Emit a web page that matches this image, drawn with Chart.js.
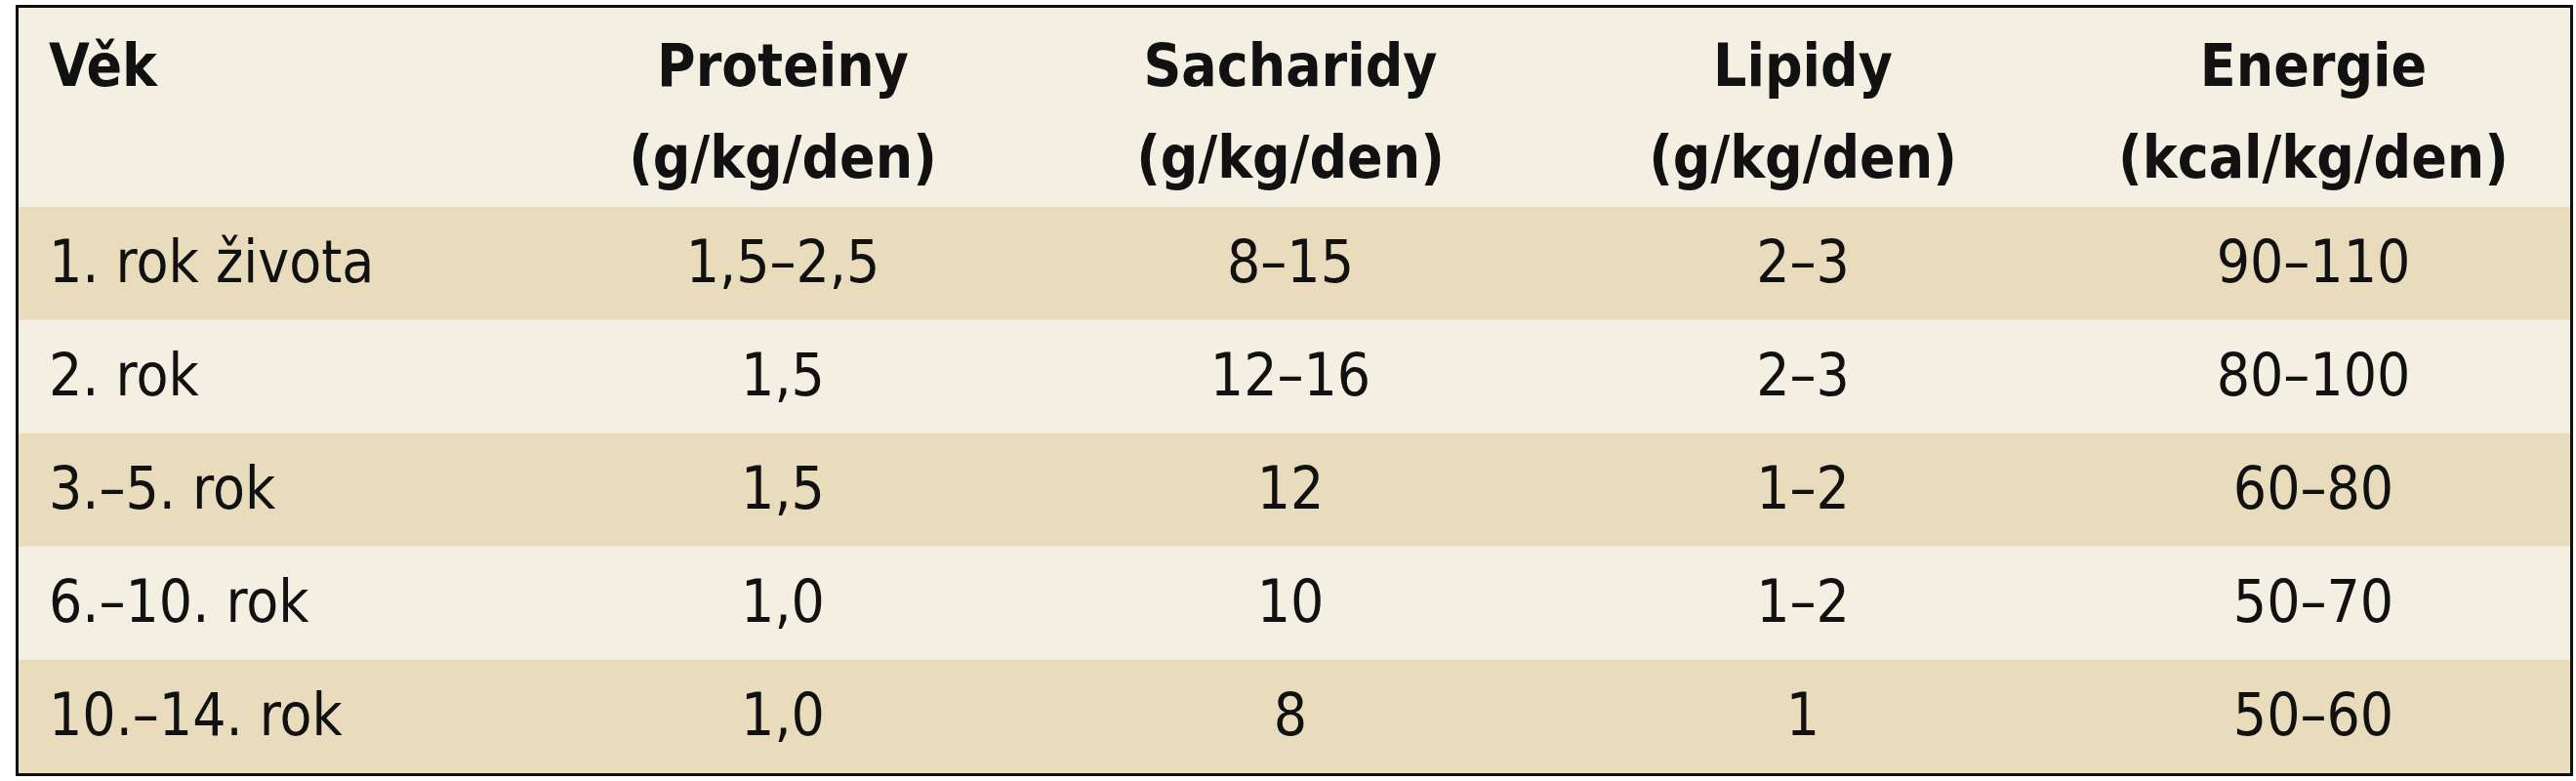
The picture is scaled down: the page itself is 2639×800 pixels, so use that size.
<!DOCTYPE html>
<html>
<head>
<meta charset="utf-8">
<script src="https://cdn.jsdelivr.net/npm/chart.js@4"></script>
<style>
body{margin:0;background:#ffffff;}
#box{position:absolute;left:16px;top:5px;width:2614px;height:784px;border:3px solid #111;background:#f4efe3;}
canvas{display:block;}
</style>
</head>
<body>
<div id="box"><canvas id="tab" width="2614" height="784"></canvas></div>
<script>
// table data
const headerTop = ["Věk","Proteiny","Sacharidy","Lipidy","Energie"];
const headerUnits = ["","(g/kg/den)","(g/kg/den)","(g/kg/den)","(kcal/kg/den)"];
const ages = ["1. rok života","2. rok","3.–5. rok","6.–10. rok","10.–14. rok"];
const proteiny = ["1,5–2,5","1,5","1,5","1,0","1,0"];
const sacharidy = ["8–15","12–16","12","10","8"];
const lipidy = ["2–3","2–3","1–2","1–2","1"];
const energie = ["90–110","80–100","60–80","50–70","50–60"];

// column x positions (style)
const colX = [31,783,1303,1828,2351];
const FONT = "'DejaVu Sans Condensed','DejaVu Sans',sans-serif";

const cellText = {
    id:"cellText",
    afterDatasetsDraw(chart){
        const ctx = chart.ctx;
        const y = chart.scales.y;
        ctx.save();
        ctx.fillStyle = "#111";
        ctx.textBaseline = "middle";
        ctx.font = "bold 60px " + FONT;
        headerTop.forEach((t,i)=>{
            ctx.textAlign = i===0 ? "left" : "center";
            ctx.fillText(t,colX[i],64);
            ctx.fillText(headerUnits[i],colX[i],158);
        });
        ctx.font = "60px " + FONT;
        const cols = [ages,proteiny,sacharidy,lipidy,energie];
        ages.forEach((a,r)=>{
            const py = y.getPixelForValue(r) + 3;
            cols.forEach((c,i)=>{
                ctx.textAlign = i===0 ? "left" : "center";
                ctx.fillText(c[r],colX[i],py);
            });
        });
        ctx.restore();
    }
};

new Chart(document.getElementById("tab"),{
    type:"bar",
    data:{
        labels:ages,
        datasets:[{
            data:ages.map(()=>1),
            backgroundColor:ages.map((a,i)=> i%2===0 ? "#e8dcbc" : "#f4efe3"),
            barPercentage:1,
            categoryPercentage:1,
            borderWidth:0
        }]
    },
    options:{
        indexAxis:"y",
        responsive:false,
        animation:false,
        layout:{padding:{top:204,left:0,right:0,bottom:0}},
        plugins:{legend:{display:false},tooltip:{enabled:false}},
        scales:{
            x:{display:false,min:0,max:1},
            y:{display:false}
        }
    },
    plugins:[cellText]
});
</script>
</body>
</html>
